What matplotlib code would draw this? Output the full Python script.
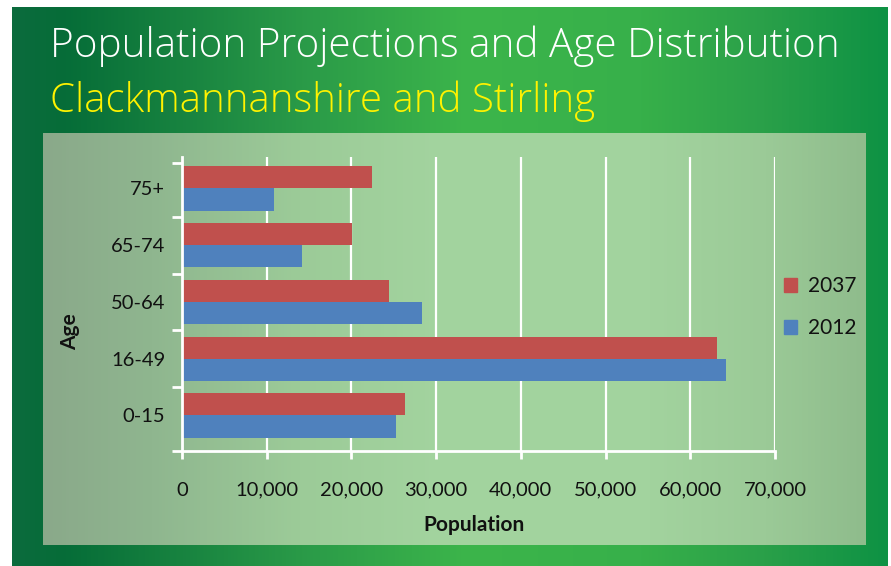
import matplotlib
matplotlib.use("Agg")
import matplotlib.pyplot as plt
import numpy as np
from matplotlib.colors import LinearSegmentedColormap
from matplotlib import font_manager as fm
from matplotlib.patches import Patch

# ---------------- data ----------------
categories = ["0-15", "16-49", "50-64", "65-74", "75+"]
pop_2012 = [25300, 64200, 28300, 14200, 10900]
pop_2037 = [26300, 63100, 24400, 20100, 22400]
x_ticks = [0, 10000, 20000, 30000, 40000, 50000, 60000, 70000]
x_tick_labels = ["0", "10,000", "20,000", "30,000", "40,000", "50,000", "60,000", "70,000"]
title_text = "Population Projections and Age Distribution"
subtitle_text = "Clackmannanshire and Stirling"

W, H = 891, 566
DPI = 100
fig = plt.figure(figsize=(W / DPI, H / DPI), dpi=DPI)
fig.patch.set_facecolor("white")

def fx(px):
    return px / W

def fy(py):
    return 1 - py / H

# pick a light font for title
def pick_light():
    names = ["Open Sans", "Lato", "Roboto", "Noto Sans", "Inter"]
    for n in names:
        for f in fm.fontManager.ttflist:
            if f.name == n and isinstance(f.weight, int) and f.weight <= 300 and f.style == "normal":
                return n, f.weight
    return "Open Sans", "normal"

light_family, light_weight = pick_light()
body_font = "Lato"

# ---------------- background ----------------
bg = fig.add_axes([0, 0, 1, 1])
bg.set_xlim(0, W)
bg.set_ylim(H, 0)
bg.axis("off")

outer_cmap = LinearSegmentedColormap.from_list(
    "outer",
    [(0.0, "#0b6b3d"), (0.06, "#066d38"), (0.33, "#2a9a48"),
     (0.52, "#3cb54b"), (0.72, "#37b04a"), (0.86, "#2aa049"), (1.0, "#0e9244")])
grad = np.linspace(0, 1, 512).reshape(1, -1)
bg.imshow(grad, cmap=outer_cmap, extent=(12, 888, 566, 7), aspect="auto", zorder=0)

inner_cmap = LinearSegmentedColormap.from_list(
    "inner",
    [(0.0, "#8aa98a"), (0.13, "#8fb68f"), (0.31, "#9ccb98"), (0.49, "#a3d49f"),
     (0.74, "#a2d39e"), (0.88, "#9bca97"), (1.0, "#8fbc8c")])
bg.imshow(grad, cmap=inner_cmap, extent=(43, 866, 545, 133), aspect="auto", zorder=1)

# ---------------- titles ----------------
renderer = fig.canvas.get_renderer()

def fit_text(txt, x, y, width_px, color, family, weight):
    t = fig.text(fx(x), fy(y), txt, color=color, family=family, fontweight=weight,
                 fontsize=30, ha="left", va="baseline")
    w = t.get_window_extent(renderer).width
    t.set_fontsize(30 * width_px / w)
    return t

fit_text(title_text, 50, 57, 788, "white", light_family, light_weight)
fit_text(subtitle_text, 50, 112, 545, "#fff200", light_family, light_weight)

# ---------------- main axes ----------------
ax_left, ax_right, ax_top, ax_bottom = 182, 775, 157, 451
ax = fig.add_axes([fx(ax_left), fy(ax_bottom), fx(ax_right - ax_left), (ax_bottom - ax_top) / H])
ax.set_facecolor("none")

y = np.arange(len(categories))
bh = 0.39
ax.barh(y + bh / 2, pop_2037, height=bh, color="#C0504D", label="2037", zorder=3)
ax.barh(y - bh / 2, pop_2012, height=bh, color="#4F81BD", label="2012", zorder=3)

ax.set_xlim(0, 70000)
ax.set_ylim(-0.626, 4.555)

ax.set_xticks(x_ticks)
ax.set_xticklabels(x_tick_labels, family=body_font, fontsize=14.5, color="#111111")
ax.set_yticks(y)
ax.set_yticklabels(categories, family=body_font, fontsize=14.5, color="#111111")
ax.set_yticks([-0.626, 0.5, 1.5, 2.5, 3.5, 4.45], minor=True)

ax.tick_params(axis="x", which="major", direction="out", length=6, width=2,
               color="white", pad=16)
ax.tick_params(axis="y", which="major", length=0, pad=12)
ax.tick_params(axis="y", which="minor", direction="out", length=7, width=2, color="white")

ax.grid(axis="x", color="white", linewidth=1.6, zorder=1)
ax.set_axisbelow(True)
for s in ["top", "right"]:
    ax.spines[s].set_visible(False)
for s in ["left", "bottom"]:
    ax.spines[s].set_color("white")
    ax.spines[s].set_linewidth(2)
    ax.spines[s].set_zorder(4)

# axis labels
fig.text(fx(474), fy(525), "Population", family=body_font, fontweight="bold",
         fontsize=15, ha="center", va="center", color="#111111")
fig.text(fx(70), fy(332), "Age", family=body_font, fontweight="bold",
         fontsize=15, ha="center", va="center", rotation=90, color="#111111")

# legend
handles = [Patch(color="#C0504D", label="2037"), Patch(color="#4F81BD", label="2012")]
leg = fig.legend(handles=handles, loc="center left",
                 bbox_to_anchor=(fx(765), fy(307)), frameon=False,
                 prop={"family": body_font, "size": 15},
                 handlelength=0.65, handleheight=0.65, handletextpad=0.5,
                 labelspacing=1.05)
for t in leg.get_texts():
    t.set_color("#111111")

fig.savefig("out.png", dpi=DPI)
